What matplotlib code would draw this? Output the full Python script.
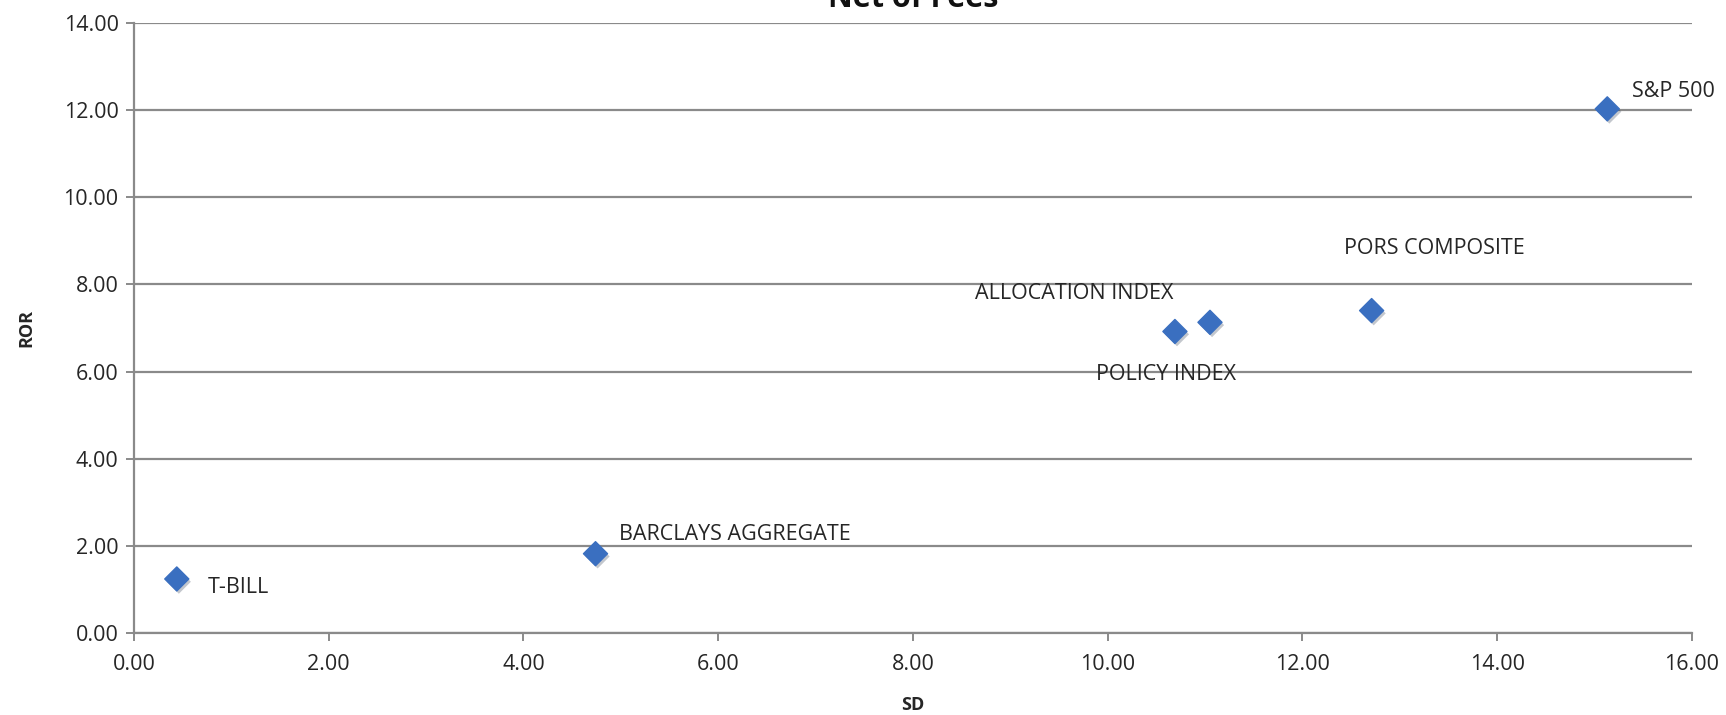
import matplotlib.pyplot as plt
import matplotlib.patheffects as pe

plt.rcParams['font.family'] = ['Open Sans', 'DejaVu Sans']

# risk (SD) vs return (ROR) per portfolio
names = ['T-BILL', 'BARCLAYS AGGREGATE', 'ALLOCATION INDEX', 'POLICY INDEX',
         'PORS COMPOSITE', 'S&P 500']
sd = [0.44, 4.74, 10.69, 11.05, 12.71, 15.13]
ror = [1.24, 1.82, 6.92, 7.13, 7.40, 12.03]

# where each label sits relative to its marker (pixels)
label_offsets = [(31, -9), (23, 19), (-101, 38), (-44, -52), (63, 62), (25, 17)]
label_align = ['left', 'left', 'center', 'center', 'center', 'left']

fig = plt.figure(figsize=(17.26, 7.15), dpi=100)
ax = fig.add_axes([0.0776, 0.1147, 0.9027, 0.8531])

grid_col = '#8a8a8a'
ax.set_xlim(0, 16)
ax.set_ylim(0, 14)
ax.set_xticks(range(0, 17, 2))
ax.set_yticks(range(0, 15, 2))
ax.set_xticklabels([f'{v:.2f}' for v in range(0, 17, 2)])
ax.set_yticklabels([f'{v:.2f}' for v in range(0, 15, 2)])
ax.yaxis.grid(True, color=grid_col, linewidth=1.6)
ax.set_axisbelow(True)
for side in ['top', 'right']:
    ax.spines[side].set_visible(False)
for side in ['left', 'bottom']:
    ax.spines[side].set_color(grid_col)
    ax.spines[side].set_linewidth(1.6)
ax.tick_params(axis='both', colors=grid_col, labelcolor='#262626',
               labelsize=15.5, length=6, width=1.4)
ax.tick_params(axis='x', pad=9)
ax.tick_params(axis='y', pad=5)

ax.scatter(sd, ror, marker='D', s=150, color='#3a6fc0', zorder=3,
           path_effects=[pe.SimplePatchShadow(offset=(1.5, -2), alpha=0.25),
                         pe.Normal()])

for name, x, y, off, ha in zip(names, sd, ror, label_offsets, label_align):
    ax.annotate(name, (x, y), xytext=off, textcoords='offset pixels',
                ha=ha, va='center', fontsize=15.5, color='#262626')

ax.set_xlabel('SD', fontsize=13, fontweight='bold', color='#262626', labelpad=15)
ax.set_ylabel('ROR', fontsize=13, fontweight='bold', color='#262626', labelpad=20)

# chart title, mostly clipped by the top edge
fig.text(0.529, 1 - 7 / 715, 'Net of Fees', ha='center', va='baseline',
         fontsize=22, fontweight='bold', color='#111111')

fig.savefig('out.png', dpi=100)
